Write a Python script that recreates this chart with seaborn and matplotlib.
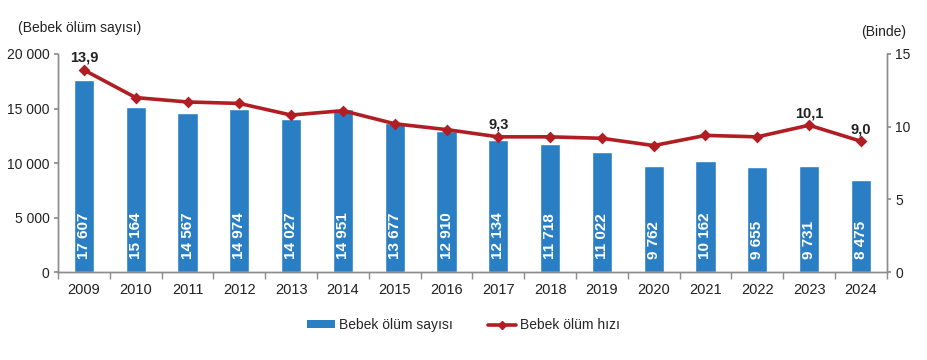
import matplotlib
matplotlib.use("Agg")
import matplotlib.pyplot as plt
import seaborn as sns
import pandas as pd
import numpy as np
from matplotlib.lines import Line2D
from matplotlib.patches import Patch

years = ["2009", "2010", "2011", "2012", "2013", "2014", "2015", "2016",
         "2017", "2018", "2019", "2020", "2021", "2022", "2023", "2024"]
deaths = [17607, 15164, 14567, 14974, 14027, 14951, 13677, 12910,
          12134, 11718, 11022, 9762, 10162, 9655, 9731, 8475]
rate = [13.9, 12.0, 11.7, 11.6, 10.8, 11.1, 10.2, 9.8,
        9.3, 9.3, 9.2, 8.7, 9.4, 9.3, 10.1, 9.0]
labeled_years = ["2009", "2017", "2023", "2024"]
left_ticks = [0, 5000, 10000, 15000, 20000]
right_ticks = [0, 5, 10, 15]

bar_color = "#2A7FC4"
line_color = "#B01E23"
grey = "#8C8C8C"

sns.set_theme(style="white")
plt.rcParams['font.family'] = ['Liberation Sans', 'DejaVu Sans']

df = pd.DataFrame({"year": years, "deaths": deaths, "rate": rate})

fig = plt.figure(figsize=(9.27, 3.6), dpi=100)
ax = fig.add_axes([0.0626, 0.2444, 0.894, 0.6056])

sns.barplot(data=df, x="year", y="deaths", color=bar_color, width=0.39,
            saturation=1, ax=ax, order=years)
ax.set_ylim(0, 20000)
ax.set_xlim(-0.5, len(years) - 0.5)

def fmt(v):
    return f"{v:,}".replace(",", " ")

for i, v in enumerate(deaths):
    ax.text(i, 1200, fmt(v), rotation=90, ha="center", va="bottom",
            color="white", fontsize=11, fontweight="bold")

ax2 = ax.twinx()
sns.pointplot(data=df, x="year", y="rate", order=years, color=line_color,
              markers="D", markersize=4.5, linewidth=2.6, ax=ax2)
ax2.set_ylim(0, 15)
ax2.set_xlim(-0.5, len(years) - 0.5)
for i, (y, r) in enumerate(zip(years, rate)):
    if y in labeled_years:
        ax2.text(i, r + 0.35, f"{r:.1f}".replace(".", ","), ha="center",
                 va="bottom", fontsize=10.5, fontweight="bold", color="#222222")

for a in (ax, ax2):
    a.set_xlabel("")
    a.set_ylabel("")
    a.spines["top"].set_visible(False)
    for s in ("left", "right", "bottom"):
        a.spines[s].set_color(grey)
        a.spines[s].set_linewidth(1)

ax.set_yticks(left_ticks)
ax.set_yticklabels([fmt(t) for t in left_ticks], fontsize=10, color="#222222")
ax2.set_yticks(right_ticks)
ax2.set_yticklabels([str(t) for t in right_ticks], fontsize=10, color="#222222")
ax.tick_params(axis="y", which="major", length=3, color=grey, direction="out", left=True, pad=3)
ax2.tick_params(axis="y", which="major", length=3, color=grey, direction="out", right=True, pad=3)

ax.set_xticks(range(len(years)))
ax.set_xticklabels(years, fontsize=10.5, color="#222222")
ax.set_xticks(np.arange(-0.5, len(years), 1.0), minor=True)
ax.tick_params(axis="x", which="major", length=0, pad=8)
ax.tick_params(axis="x", which="minor", length=5, color=grey, direction="out", bottom=True)
ax2.tick_params(axis="x", which="both", length=0)

fig.text(18 / 927, 1 - 28 / 360, "(Bebek ölüm sayısı)", fontsize=10,
         ha="left", va="center", color="#222222")
fig.text(906 / 927, 1 - 32 / 360, "(Binde)", fontsize=10,
         ha="right", va="center", color="#222222")

handles = [
    Patch(facecolor=bar_color, edgecolor="none"),
    Line2D([0], [0], color=line_color, lw=2.6, marker="D", markersize=4),
]
fig.legend(handles, ["Bebek ölüm sayısı", "Bebek ölüm hızı"], loc="center",
           bbox_to_anchor=(0.5, 1 - 325 / 360), ncol=2, frameon=False,
           fontsize=10, handlelength=2.0, handleheight=0.5, columnspacing=2.5,
           handletextpad=0.3)

fig.savefig("out.png", dpi=100)
